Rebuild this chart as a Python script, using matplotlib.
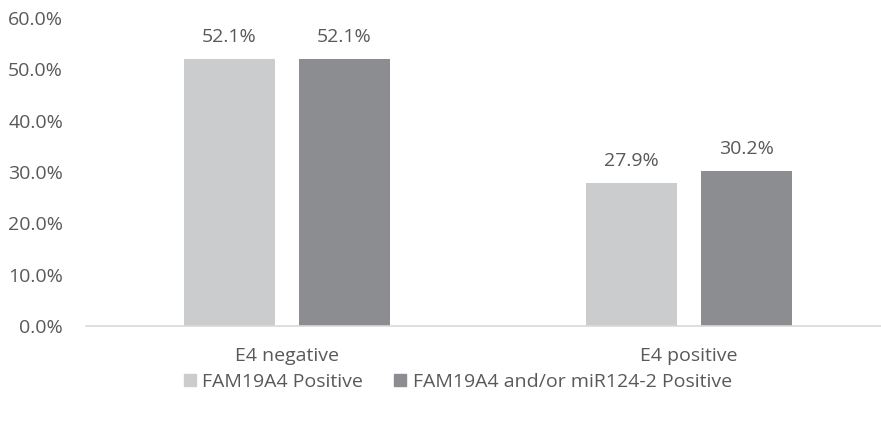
import numpy as np
import matplotlib.pyplot as plt
from matplotlib.patches import Patch

categories = ['E4 negative', 'E4 positive']
series_names = ['FAM19A4 Positive', 'FAM19A4 and/or miR124-2 Positive']
fam19a4 = [0.521, 0.279]
fam_or_mir = [0.521, 0.302]
yticks = [0.0, 0.1, 0.2, 0.3, 0.4, 0.5, 0.6]

light = '#CBCCCE'
dark = '#8C8D91'
txt = '#595959'
fs = 14

plt.rcParams['font.family'] = ['Open Sans', 'DejaVu Sans']

fig = plt.figure(figsize=(8.81, 4.22), dpi=100)
ax = fig.add_axes([86 / 881, (422 - 326) / 422, 795 / 881, (326 - 18) / 422])

x = np.arange(len(categories))
w = 0.227
off = 0.143
b1 = ax.bar(x - off, fam19a4, w, color=light, label=series_names[0])
b2 = ax.bar(x + off, fam_or_mir, w, color=dark, label=series_names[1])

for bars in (b1, b2):
    for r in bars:
        ax.text(r.get_x() + r.get_width() / 2, r.get_height() + 0.025,
                '{:.1f}%'.format(r.get_height() * 100), ha='center', va='bottom',
                fontsize=fs, color=txt)

ax.set_xlim(-0.5, 1.477)
ax.set_ylim(0, 0.6)
ax.set_yticks(yticks)
ax.set_yticklabels(['{:.1f}%'.format(v * 100) for v in yticks], fontsize=fs, color=txt)
ax.set_xticks(x)
ax.set_xticklabels(categories, fontsize=fs, color=txt)
ax.tick_params(axis='both', length=0)
ax.tick_params(axis='x', pad=15)
ax.tick_params(axis='y', pad=16.5)
for s in ['top', 'right', 'left']:
    ax.spines[s].set_visible(False)
ax.spines['bottom'].set_color('#D9D9D9')
ax.spines['bottom'].set_linewidth(1.2)

handles = [Patch(color=light), Patch(color=dark)]
fig.legend(handles, series_names, loc='center', bbox_to_anchor=(458 / 881, 1 - 382 / 422),
           ncol=2, frameon=False, fontsize=fs, labelcolor=txt,
           handlelength=0.6, handleheight=0.6, handletextpad=0.35, columnspacing=1.6)

fig.savefig('out.png', dpi=100)
